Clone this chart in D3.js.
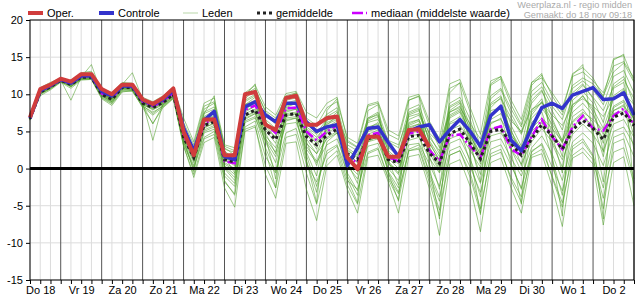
<!DOCTYPE html>
<html>
<head>
    <meta charset="utf-8">
    <title>Pluim temperatuur</title>
    <script src="https://cdn.jsdelivr.net/npm/d3@7"></script>
    <style>
        body { margin: 0; background: white; }
        text { font-family: "Liberation Sans", Arial, sans-serif; }
    </style>
</head>
<body>
    <svg width="635" height="300"></svg>
    <script>
        const width = 635;
        const height = 300;

        // tijdstappen: elke 6 uur vanaf do 18 06:00 (uren sinds do 18 00:00)
        const firstHour = 6;
        const stepHours = 6;

        const dayLabels = ['Do 18','Vr 19','Za 20','Zo 21','Ma 22','Di 23','Wo 24','Do 25',
                           'Vr 26','Za 27','Zo 28','Ma 29','Di 30','Wo 1','Do 2'];
        const yTicks = [-15, -10, -5, 0, 5, 10, 15, 20];

        const oper = [6.9,10.7,11.3,12.1,11.7,12.7,12.7,10.7,10.0,11.3,11.3,9.3,8.7,9.5,10.8,
                      5.0,1.8,6.6,6.6,1.8,1.8,10.0,10.3,5.9,5.2,9.5,9.8,5.9,5.9,6.8,
                      7.0,1.5,-0.1,4.3,4.3,1.6,1.6,5.2,5.3,2.9];

        const controle = [6.8,10.5,11.2,12.0,11.5,12.5,12.5,10.4,9.8,11.1,11.1,9.2,8.6,9.3,10.5,
                          5.5,2.4,6.5,7.7,1.6,1.2,8.3,9.0,7.2,6.3,8.8,8.8,6.3,5.0,5.6,
                          5.9,0.4,2.8,5.4,5.6,3.5,1.6,5.0,5.6,5.9,3.6,5.2,6.6,5.0,3.0,
                          7.1,8.4,3.8,2.4,5.5,8.2,8.8,8.1,9.9,10.4,10.9,9.3,9.4,10.2,7.2];

        const gemiddelde = [6.7,10.3,11.0,11.9,11.3,12.3,12.3,10.0,9.3,10.9,10.9,8.8,8.2,8.9,10.0,
                            4.2,1.5,5.8,6.3,1.2,0.9,7.2,7.9,5.2,3.9,7.2,7.4,4.3,3.2,4.5,
                            5.3,2.0,1.2,4.0,4.5,1.2,0.8,4.3,4.5,2.1,0.7,4.7,5.3,3.4,1.3,
                            5.0,5.3,3.4,1.8,4.0,5.9,4.4,2.6,5.2,6.5,5.4,3.9,6.9,7.5,5.8];

        const mediaan = [6.8,10.4,11.1,11.9,11.4,12.4,12.4,10.1,9.5,11.0,11.0,9.0,8.4,9.0,10.2,
                         4.5,1.6,6.0,6.8,1.0,0.7,7.9,8.5,6.0,4.8,8.1,8.2,5.0,3.8,5.0,
                         5.8,1.5,0.8,4.5,4.8,1.5,1.0,4.7,5.0,2.5,1.0,4.4,4.6,3.0,1.5,
                         5.3,5.7,2.6,1.8,4.3,6.6,4.3,2.6,5.6,7.1,5.4,5.1,7.1,8.1,5.9];

        const leden = [
            [6.9,10.9,11.6,12.2,11.8,12.9,13.1,10.8,10.2,11.6,11.5,9.6,9.0,9.8,11.0,
             6.8,3.6,8.8,9.5,3.2,2.8,10.2,11.2,8.3,7.2,10.1,10.4,7.6,6.8,8.8,
             9.6,3.8,2.9,8.4,8.8,4.6,3.9,9.2,9.7,5.8,2.8,10.8,11.5,7.6,2.9,
             11.2,12.1,8.6,5.9,11.2,12.6,9.8,7.6,12.8,13.6,12.2,9.6,14.8,15.2,11.8],
            [6.5,9.8,10.6,11.6,10.8,11.9,12.0,9.4,8.5,10.3,10.5,8.2,6.1,8.2,9.4,
             3.1,-1.2,3.5,4.2,-2.6,-5.2,5.3,5.8,-0.8,-4.0,3.4,3.6,-2.8,-7.0,0.4,
             1.8,-2.8,-6.0,1.5,1.8,-1.8,-6.0,1.6,1.9,-2.6,-9.0,0.6,1.2,-2.4,-8.5,
             0.8,1.4,-2.6,-6.0,1.5,2.0,-2.4,-7.8,1.4,2.2,0.6,-7.6,0.8,1.6,-5.0],
            [6.8,10.6,11.4,12.0,11.5,12.6,12.7,10.5,9.8,11.3,12.9,9.3,8.7,9.3,10.6,
             5.4,2.8,7.6,8.3,2.6,2.2,9.0,9.8,7.2,6.0,9.2,9.5,6.4,5.6,7.3,
             8.2,3.2,2.4,6.8,7.6,3.6,2.8,8.0,8.6,4.6,2.0,8.8,9.6,6.6,2.2,
             9.4,10.6,7.4,4.8,9.8,11.0,8.4,6.6,10.8,11.8,10.6,8.6,12.4,13.2,10.2],
            [6.6,10.1,10.8,11.8,11.0,12.1,12.1,9.7,8.9,10.6,10.6,8.5,7.4,8.5,9.6,
             3.5,0.4,4.8,5.3,0.0,-1.6,6.2,6.8,3.8,1.6,6.0,6.2,2.6,0.8,3.2,
             4.0,0.4,-1.4,3.0,3.4,0.0,-1.6,3.2,3.4,0.6,-2.4,3.4,4.0,1.2,-2.0,
             3.6,4.0,1.4,-1.0,2.8,4.4,2.0,-1.6,3.6,4.8,3.4,0.4,5.0,5.6,3.2],
            [6.7,10.4,11.2,11.9,9.2,12.3,14.0,10.1,9.5,11.0,11.1,8.9,3.8,8.8,10.2,
             4.6,1.2,6.4,7.2,1.4,0.8,8.0,8.8,5.8,4.2,7.8,8.0,4.8,3.6,5.2,
             6.2,1.2,0.2,5.6,6.0,2.4,1.2,6.2,6.6,3.0,0.2,6.8,7.6,4.2,0.6,
             6.6,7.4,4.6,2.2,6.8,8.2,6.0,3.4,7.6,8.8,7.2,4.6,8.4,9.2,6.6],
            [6.6,10.2,10.9,11.8,11.2,12.2,12.3,9.9,9.1,10.8,10.7,8.6,8.0,8.7,9.8,
             3.8,0.8,5.2,5.8,0.4,-0.8,6.8,7.4,3.6,0.8,6.4,6.8,1.8,-2.4,2.4,
             3.2,-0.6,-3.0,3.6,4.4,0.8,-0.8,5.4,6.0,3.4,1.2,8.4,9.2,5.8,2.6,
             9.8,10.8,8.0,5.6,10.4,11.6,9.0,7.2,11.2,12.2,11.4,9.8,13.0,14.2,11.6],
            [6.9,10.6,11.3,12.1,11.6,12.6,12.6,10.4,9.7,11.2,11.2,9.1,8.5,9.2,10.4,
             5.8,2.6,8.0,8.8,2.8,1.8,9.4,10.6,7.8,6.8,9.6,10.0,6.0,4.8,6.6,
             6.8,1.6,-0.4,4.4,4.6,-0.6,-3.2,2.4,2.6,-1.8,-6.4,1.8,2.4,-0.6,-5.4,
             1.6,2.2,-1.2,-3.8,1.8,2.6,-1.0,-4.6,1.8,2.8,1.2,-4.0,2.2,2.8,-2.0],
            [6.7,10.3,11.0,11.9,11.3,12.3,12.4,10.0,9.4,10.9,11.0,8.8,8.3,9.0,10.1,
             4.4,1.8,6.0,6.6,1.4,1.0,7.4,8.0,5.4,4.2,7.4,7.6,4.6,3.4,4.8,
             5.6,2.4,1.6,4.2,4.8,1.6,1.0,4.8,5.0,2.6,1.2,5.2,5.8,3.8,1.6,
             5.4,5.6,3.8,2.0,4.4,6.2,4.8,3.0,5.6,7.0,5.8,4.2,7.4,7.8,6.0],
            [6.8,10.5,11.2,12.0,11.4,12.5,12.5,10.2,9.6,11.1,11.1,9.0,8.4,9.1,10.3,
             4.0,-0.4,7.4,9.8,-1.8,-3.4,9.8,11.4,2.4,-2.6,9.4,10.2,1.2,-4.6,7.8,
             9.4,-1.4,-4.6,7.8,8.6,-0.6,-4.4,9.2,9.8,0.4,-6.8,10.2,11.6,1.8,-6.2,
             11.4,12.4,2.4,-4.8,11.6,12.8,1.6,-6.4,12.6,14.0,4.0,-6.8,14.6,15.4,-4.2],
            [6.6,10.0,10.7,11.7,11.1,12.0,12.1,9.6,8.8,10.5,10.4,8.4,7.6,8.4,9.5,
             4.8,2.2,6.6,7.0,2.0,1.6,7.8,8.4,6.2,5.2,8.0,8.2,5.6,4.6,6.2,
             6.8,3.6,2.8,6.2,6.6,3.8,3.2,7.0,7.4,4.8,3.4,7.6,8.2,6.0,4.0,
             7.8,8.2,6.4,5.0,8.0,8.8,7.2,5.8,8.6,9.4,8.4,7.0,9.6,10.2,8.6],
            [6.7,10.2,10.9,11.8,11.2,12.2,12.2,9.8,9.0,10.7,10.8,8.6,6.0,8.6,9.7,
             3.2,0.2,4.2,5.0,-1.0,-2.4,5.6,6.4,1.6,-0.6,4.8,5.4,0.6,-1.8,2.0,
             3.0,-1.6,-2.8,2.2,2.8,-1.2,-3.4,2.6,3.2,-0.4,-3.8,2.4,3.0,0.2,-3.2,
             2.6,3.2,0.4,-2.6,2.2,3.4,0.2,-3.0,3.0,4.0,1.8,-2.6,4.2,4.8,1.6],
            [6.8,10.4,11.1,12.0,11.4,12.4,12.5,10.1,9.4,11.0,11.0,8.9,8.3,9.0,10.1,
             4.6,1.4,6.2,7.0,1.2,0.4,7.6,8.4,5.2,3.4,7.6,8.0,4.0,2.0,5.6,
             6.4,2.6,1.4,5.4,6.2,2.8,1.8,6.6,7.2,4.2,2.4,7.6,8.4,5.4,3.0,
             8.6,9.4,6.8,4.6,8.8,10.4,7.8,5.2,9.8,11.2,9.6,7.8,11.0,12.0,9.4],
            [6.7,10.3,11.0,11.9,11.3,12.3,12.3,10.0,9.3,10.9,10.9,8.8,8.2,8.9,10.0,
             4.2,1.0,5.6,6.0,0.8,0.0,6.6,7.4,4.4,2.8,6.8,7.0,3.4,2.0,4.0,
             4.8,1.2,0.4,3.6,4.0,0.6,-0.2,3.8,4.2,1.4,-0.6,4.0,4.6,2.4,0.2,
             4.4,4.8,2.6,0.6,3.6,5.4,3.6,1.2,4.6,6.0,4.6,2.4,6.0,6.6,4.2],
            [6.8,10.5,11.1,12.0,11.4,12.4,12.4,10.1,9.4,11.0,11.0,8.9,8.3,9.0,10.1,
             5.0,2.0,6.8,7.6,1.6,-0.6,8.6,9.2,4.4,-1.4,8.2,8.8,2.2,-1.0,5.8,
             7.2,0.8,-2.0,6.6,7.4,1.0,-2.2,7.6,8.2,1.8,-2.8,7.8,8.8,3.6,-1.8,
             8.2,9.6,4.2,0.4,7.8,9.4,4.6,-0.6,9.2,10.4,8.8,2.2,10.8,11.6,5.2],
            [6.7,10.2,11.0,11.8,11.2,12.2,12.2,9.9,9.2,10.8,10.8,8.7,8.1,8.8,9.9,
             3.6,-0.2,5.0,5.6,-0.6,-2.0,6.4,7.0,2.8,-0.4,6.6,6.8,1.0,-3.2,3.6,
             4.8,-1.0,-3.6,3.8,4.2,-0.4,-2.6,4.4,4.6,-0.8,-4.4,4.6,5.2,0.8,-3.8,
             5.2,5.8,0.6,-2.8,5.0,6.4,1.4,-3.6,6.2,7.4,5.0,-1.8,7.8,8.6,2.6],
            [6.9,10.8,11.4,12.2,11.7,12.8,12.9,10.6,10.0,11.4,11.4,9.4,8.9,9.6,10.8,
             6.2,3.2,8.4,9.0,3.0,2.4,10.0,10.8,7.6,6.4,9.8,10.2,6.8,5.8,8.2,
             9.0,4.2,3.4,8.6,9.0,5.2,4.4,9.6,10.0,6.4,4.0,11.4,12.0,8.2,4.6,
             11.8,12.4,9.2,6.6,11.6,12.2,10.2,8.2,12.4,13.0,11.8,10.2,13.8,14.4,12.2],
            [6.6,10.1,10.8,11.7,11.1,12.1,12.2,9.8,9.0,10.7,10.6,8.6,7.9,8.6,9.7,
             4.0,1.2,5.4,6.2,0.6,-0.2,7.0,7.6,4.0,2.2,7.0,7.4,3.0,1.0,4.2,
             5.0,0.6,-0.8,4.6,5.2,1.4,0.0,5.8,6.4,2.2,-0.4,6.2,7.0,3.0,-0.8,
             6.0,6.8,2.6,-0.4,6.2,7.6,3.4,0.2,7.0,8.0,6.2,1.6,8.2,9.0,4.4],
            [6.7,10.4,11.1,12.0,11.4,12.3,12.4,10.2,9.5,11.1,11.2,9.0,8.5,9.1,10.3,
             5.2,2.6,7.0,7.8,2.2,1.4,8.2,9.0,6.0,4.8,8.4,8.8,5.2,3.8,6.4,
             7.6,2.8,1.8,6.8,7.2,3.0,2.0,7.2,7.8,3.8,1.6,7.2,8.0,4.6,1.4,
             7.0,8.2,5.0,2.6,7.2,9.0,6.4,3.8,8.2,9.8,8.0,5.4,9.4,10.6,7.4],
            [6.6,10.0,10.8,11.7,11.0,12.0,12.0,9.5,8.7,10.4,10.5,8.3,7.2,8.3,9.5,
             3.0,-0.8,4.0,4.6,-1.6,-3.6,5.0,5.6,0.4,-2.6,4.2,4.6,-0.6,-4.8,1.2,
             2.4,-2.2,-4.8,2.0,2.6,-1.4,-4.2,2.4,2.8,-1.2,-5.6,1.8,2.4,-1.2,-6.0,
             2.0,2.6,-1.6,-4.6,2.4,3.2,-1.2,-5.2,2.6,3.6,1.6,-5.4,3.4,4.0,-1.4],
            [6.8,10.5,11.2,12.0,11.5,12.5,12.6,10.3,9.6,11.2,11.1,9.0,8.6,9.2,10.4,
             4.8,1.6,6.8,7.4,1.8,0.6,8.6,9.6,6.6,5.4,8.6,9.0,5.4,4.2,6.0,
             6.6,2.0,0.8,5.0,5.4,1.8,0.6,5.6,6.0,2.8,0.6,6.0,6.6,4.4,2.0,
             6.2,6.6,4.4,2.8,5.4,6.8,5.4,3.6,6.4,7.6,6.6,5.2,7.8,8.4,6.8],
            [6.7,10.3,11.0,11.9,11.3,12.2,12.3,10.0,9.3,10.9,10.9,8.8,8.2,8.9,10.0,
             4.4,1.2,5.8,6.4,0.2,-1.2,7.0,7.8,4.8,2.0,7.2,7.4,3.6,0.4,5.0,
             6.0,1.8,0.0,5.2,5.8,1.0,-0.6,6.0,6.6,2.8,-0.2,7.0,7.8,4.8,1.0,
             7.4,8.2,5.2,1.8,7.6,9.0,5.6,1.6,8.6,9.8,7.6,3.4,9.8,10.8,6.4],
            [6.8,10.6,11.3,12.1,11.6,12.6,12.7,10.4,9.8,11.3,11.3,9.2,8.6,9.3,10.5,
             5.6,2.2,7.4,8.0,2.4,1.2,9.2,10.0,6.4,4.6,8.8,9.2,4.8,2.6,7.0,
             7.8,2.0,0.8,6.4,7.0,2.2,0.8,7.4,8.0,3.6,1.0,8.2,9.0,5.0,1.8,
             8.8,9.8,5.8,3.0,9.2,10.6,6.8,3.6,10.2,11.4,9.4,6.2,11.4,12.4,8.6]
        ];

        const svg = d3.select('svg');
        svg.style('background-color', 'white');

        const plotLeft = 30, plotRight = 634, plotTop = 20, plotBottom = 280;

        const x = d3.scaleLinear().domain([firstHour, 360]).range([plotLeft, plotRight]);
        const y = d3.scaleLinear().domain([-15, 20]).range([plotBottom, plotTop]);

        const hourOf = i => firstHour + i * stepHours;
        const allHours = d3.range(firstHour, 360 + 1, stepHours);

        // rasterlijnen
        svg.append('g').selectAll('line')
            .data(allHours.filter(h => h % 24 != 0))
            .join('line')
                .attr('x1', d => x(d)).attr('x2', d => x(d))
                .attr('y1', plotTop).attr('y2', plotBottom)
                .attr('stroke', '#dcdcdc').attr('stroke-width', 1);

        svg.append('g').selectAll('line')
            .data(yTicks)
            .join('line')
                .attr('x1', plotLeft).attr('x2', plotRight)
                .attr('y1', d => y(d)).attr('y2', d => y(d))
                .attr('stroke', '#dcdcdc').attr('stroke-width', 1);

        // dagscheiding
        svg.append('g').selectAll('line')
            .data(allHours.filter(h => h % 24 == 0))
            .join('line')
                .attr('x1', d => x(d)).attr('x2', d => x(d))
                .attr('y1', plotTop).attr('y2', plotBottom)
                .attr('stroke', '#555').attr('stroke-width', 1);

        const line = d3.line()
            .x((d, i) => x(hourOf(i)))
            .y(d => y(d));

        // leden
        svg.append('g').selectAll('path')
            .data(leden)
            .join('path')
                .attr('d', line)
                .attr('fill', 'none')
                .attr('stroke', '#4f9e28')
                .attr('stroke-opacity', 0.55)
                .attr('stroke-width', 1);

        // nullijn
        svg.append('line')
            .attr('x1', plotLeft).attr('x2', plotRight)
            .attr('y1', y(0)).attr('y2', y(0))
            .attr('stroke', 'black').attr('stroke-width', 3);

        svg.append('path')
            .attr('d', line(mediaan))
            .attr('fill', 'none')
            .attr('stroke', '#cc00ff')
            .attr('stroke-width', 2.5)
            .attr('stroke-dasharray', '9,3,2,3');

        svg.append('path')
            .attr('d', line(gemiddelde))
            .attr('fill', 'none')
            .attr('stroke', '#222')
            .attr('stroke-width', 3)
            .attr('stroke-dasharray', '3,3');

        svg.append('path')
            .attr('d', line(controle))
            .attr('fill', 'none')
            .attr('stroke', '#3333cc')
            .attr('stroke-width', 3.5)
            .attr('stroke-linejoin', 'round');

        svg.append('path')
            .attr('d', line(oper))
            .attr('fill', 'none')
            .attr('stroke', '#d03c3c')
            .attr('stroke-width', 4)
            .attr('stroke-linejoin', 'round');

        // kader
        svg.append('rect')
            .attr('x', plotLeft).attr('y', plotTop)
            .attr('width', plotRight - plotLeft).attr('height', plotBottom - plotTop)
            .attr('fill', 'none').attr('stroke', 'black').attr('stroke-width', 1);

        // assen
        const yAxis = svg.append('g')
            .attr('transform', `translate(${plotLeft},0)`)
            .call(d3.axisLeft(y).tickValues(yTicks).tickSize(4).tickPadding(3)
                .tickFormat(d => String(d)));
        yAxis.select('.domain').remove();
        yAxis.selectAll('text').attr('font-size', 11).attr('fill', '#000').style('font-family', '"Liberation Sans", Arial, sans-serif');

        const xTicks = svg.append('g')
            .attr('transform', `translate(0,${plotBottom})`)
            .call(d3.axisBottom(x).tickValues(allHours).tickSize(4).tickFormat(''));
        xTicks.select('.domain').remove();

        const xLabels = svg.append('g')
            .attr('transform', `translate(0,${plotBottom})`)
            .call(d3.axisBottom(x)
                .tickValues(dayLabels.map((d, i) => i * 24 + 12))
                .tickFormat((d, i) => dayLabels[i])
                .tickSize(0).tickPadding(6));
        xLabels.select('.domain').remove();
        xLabels.selectAll('text').attr('font-size', 11).attr('fill', '#000').style('font-family', '"Liberation Sans", Arial, sans-serif');

        // legenda
        const legend = [
            {label: 'Oper.', x: 28, color: '#d03c3c', w: 4, dash: null, op: 1},
            {label: 'Controle', x: 99, color: '#3333cc', w: 4, dash: null, op: 1},
            {label: 'Leden', x: 183, color: '#4f9e28', w: 1, dash: null, op: 0.4},
            {label: 'gemiddelde', x: 257, color: '#222', w: 3, dash: '3,3', op: 1},
            {label: 'mediaan (middelste waarde)', x: 352, color: '#cc00ff', w: 2.5, dash: '11,3,2,3', op: 1}
        ];
        const lg = svg.append('g').selectAll('g')
            .data(legend)
            .join('g')
                .attr('transform', d => `translate(${d.x},13)`);
        lg.append('line')
            .attr('x1', 0).attr('x2', 15)
            .attr('stroke', d => d.color)
            .attr('stroke-width', d => d.w)
            .attr('stroke-opacity', d => d.op)
            .attr('stroke-dasharray', d => d.dash);
        lg.append('text')
            .attr('x', 19).attr('y', 4)
            .attr('font-size', 11)
            .text(d => d.label);

        svg.append('text')
            .attr('x', 632).attr('y', 8)
            .attr('text-anchor', 'end')
            .attr('font-size', 9.2).attr('fill', '#aaa')
            .text('Weerplaza.nl - regio midden');
        svg.append('text')
            .attr('x', 632).attr('y', 17.5)
            .attr('text-anchor', 'end')
            .attr('font-size', 9.2).attr('fill', '#aaa')
            .text('Gemaakt: do 18 nov 09:18');
    </script>
</body>
</html>
